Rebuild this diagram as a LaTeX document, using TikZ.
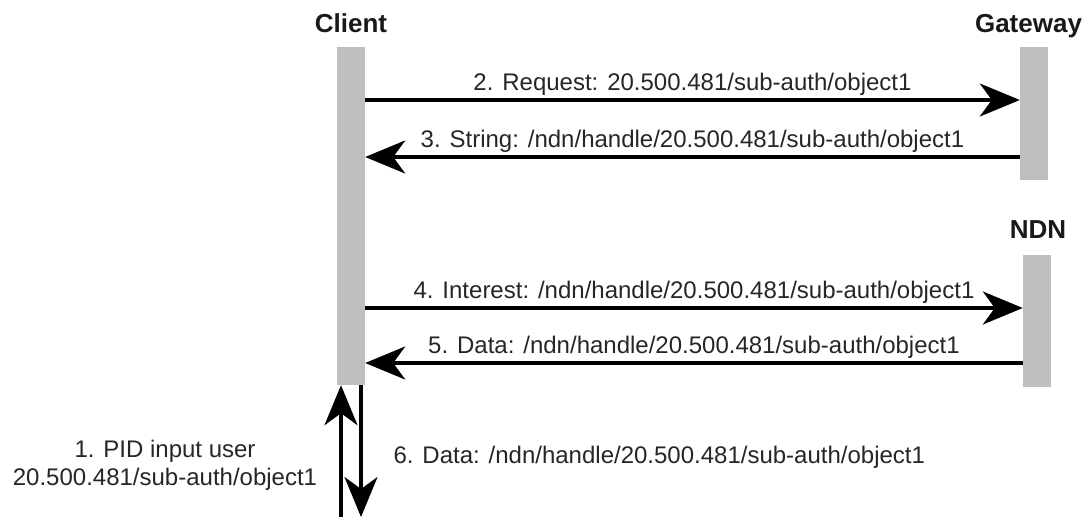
\documentclass[tikz,border=0pt]{standalone}
\usepackage{fontspec}
\setmainfont{Liberation Sans}
\usetikzlibrary{arrows.meta}

\begin{document}
\begin{tikzpicture}[x=1pt,y=-1pt,
    >={Stealth[length=40pt,width=33pt,inset=12pt]},
    lifeline/.style={fill=black!25, draw=none, minimum width=28pt,
      inner sep=0pt},
    actor/.style={font=\fontsize{26}{30}\selectfont\bfseries,
      text=black!90, anchor=base},
    msg/.style={->, line width=3.3pt},
    txt/.style={font=\fontsize{24}{28}\selectfont, text=black!85}]
  \useasboundingbox (0,0) rectangle (1085,517);

  % lifelines
  \node[lifeline, minimum height=338pt] (client) at (351,216) {};
  \node[lifeline, minimum height=133pt] (gateway) at (1034,113.5) {};
  \node[lifeline, minimum height=132pt] (ndn) at (1037,321) {};
  \node[actor] (clientlbl) at (351,32) {Client};
  \node[actor] (gatewaylbl) at (1028.5,32) {Gateway};
  \node[actor] (ndnlbl) at (1038,238) {NDN};

  % message rows
  \foreach \n/\y in {r2/100,r3/157,r4/308,r5/363}
    \coordinate (\n) at (0,\y);
  \coordinate (in1) at (341,520);
  \coordinate (out6) at (361,517);

  \draw[msg] (client.east |- r2) -- (gateway.west |- r2)
    node[txt, midway, above, inner sep=3pt] {2. Request: 20.500.481/sub-auth/object1};
  \draw[msg] (gateway.west |- r3) -- (client.east |- r3)
    node[txt, midway, above, inner sep=3pt] {3. String: /ndn/handle/20.500.481/sub-auth/object1};
  \draw[msg] (client.east |- r4) -- (ndn.west |- r4)
    node[txt, midway, above, inner sep=3pt] {4. Interest: /ndn/handle/20.500.481/sub-auth/object1};
  \draw[msg] (ndn.west |- r5) -- (client.east |- r5)
    node[txt, midway, above, inner sep=3pt] {5. Data: /ndn/handle/20.500.481/sub-auth/object1};

  % user input and output
  \draw[msg] (in1) -- (client.south -| in1);
  \draw[msg] (client.south -| out6) -- (out6);
  \node[txt, align=center] (in1lbl) at (165,465)
    {1. PID input user\\20.500.481/sub-auth/object1};
  \node[txt, anchor=base west] (out6lbl) at (390,463)
    {6. Data: /ndn/handle/20.500.481/sub-auth/object1};
\end{tikzpicture}
\end{document}
